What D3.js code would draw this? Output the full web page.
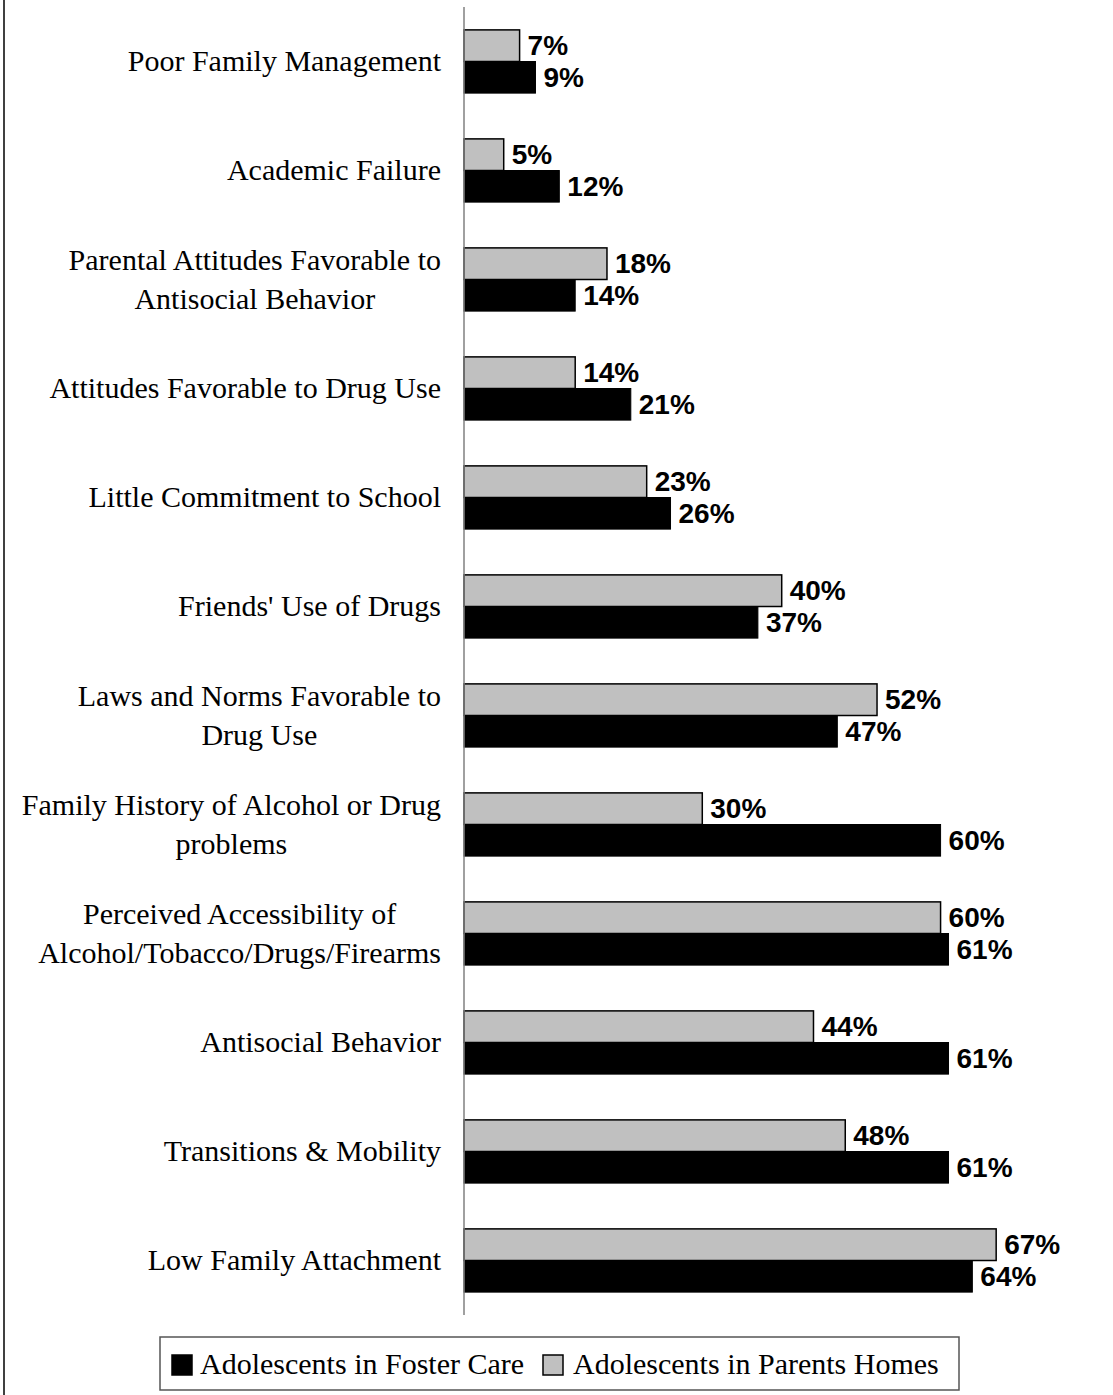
<!DOCTYPE html>
<html>
<head>
<meta charset="utf-8">
<script src="https://cdn.jsdelivr.net/npm/d3@7"></script>
<style>
  html, body { margin: 0; padding: 0; background: #fff; }
  svg { display: block; }
</style>
</head>
<body>
<svg id="chart" width="1113" height="1395"></svg>
<script>
// Risk factors, top to bottom; "\n" marks a line break in the label
const categories = [
  "Poor Family Management",
  "Academic Failure",
  "Parental Attitudes Favorable to\nAntisocial Behavior",
  "Attitudes Favorable to Drug Use",
  "Little Commitment to School",
  "Friends' Use of Drugs",
  "Laws and Norms Favorable to\nDrug Use",
  "Family History of Alcohol or Drug\nproblems",
  "Perceived Accessibility of\nAlcohol/Tobacco/Drugs/Firearms",
  "Antisocial Behavior",
  "Transitions & Mobility",
  "Low Family Attachment"
];
// Percent of adolescents showing each risk factor
const parentsHomes = [7, 5, 18, 14, 23, 40, 52, 30, 60, 44, 48, 67];
const fosterCare   = [9, 12, 14, 21, 26, 37, 47, 60, 61, 61, 61, 64];
const seriesNames  = ["Adolescents in Foster Care", "Adolescents in Parents Homes"];

const svg = d3.select("#chart");

const x = d3.scaleLinear().domain([0, 70]).range([464, 1020]);
const y = d3.scaleBand().domain(d3.range(categories.length))
  .range([7, 1315]).paddingInner(0.42).paddingOuter(0.21);
const sub = d3.scaleBand().domain(["parents", "foster"]).range([0, y.bandwidth()]);

const rows = categories.map((c, i) => ({
  i, label: c, parents: parentsHomes[i], foster: fosterCare[i]
}));

// outer frame line on the left
svg.append("line")
  .attr("x1", 4).attr("x2", 4).attr("y1", 0).attr("y2", 1395)
  .attr("stroke", "#404040").attr("stroke-width", 2);

const serif = "'Liberation Serif', 'Times New Roman', Times, serif";
const sans = "'Liberation Sans', Arial, Helvetica, sans-serif";

// bars
const g = svg.append("g");
const groups = g.selectAll("g.row").data(rows).join("g")
  .attr("class", "row")
  .attr("transform", d => `translate(0,${y(d.i)})`);

groups.append("rect")
  .attr("x", x(0))
  .attr("y", sub("parents"))
  .attr("width", d => x(d.parents) - x(0))
  .attr("height", sub.bandwidth())
  .attr("fill", "#c0c0c0")
  .attr("stroke", "#000").attr("stroke-width", 1.5);

groups.append("rect")
  .attr("x", x(0))
  .attr("y", sub("foster"))
  .attr("width", d => x(d.foster) - x(0))
  .attr("height", sub.bandwidth())
  .attr("fill", "#000")
  .attr("stroke", "#000").attr("stroke-width", 1);

// value labels
groups.append("text")
  .attr("x", d => x(d.parents) + 8)
  .attr("y", sub("parents") + sub.bandwidth() / 2)
  .attr("dy", "0.35em")
  .attr("font-family", sans).attr("font-weight", "bold").attr("font-size", 28)
  .text(d => d.parents + "%");

groups.append("text")
  .attr("x", d => x(d.foster) + 8)
  .attr("y", sub("foster") + sub.bandwidth() / 2)
  .attr("dy", "0.33em")
  .attr("font-family", sans).attr("font-weight", "bold").attr("font-size", 28)
  .text(d => d.foster + "%");

// category labels: lines centred on each other, block right-aligned to the axis
const labelRight = 441;
const lineH = 40;
groups.each(function(d) {
  const lines = d.label.split("\n");
  const cy = y.bandwidth() / 2;
  const t = d3.select(this).append("text")
    .attr("font-family", serif).attr("font-size", 30).attr("fill", "#000")
    .attr("text-anchor", "middle");
  const spans = lines.map((ln, k) => t.append("tspan")
    .attr("y", cy + (k - (lines.length - 1) / 2) * lineH + 10)
    .text(ln));
  const maxW = d3.max(spans, s => s.node().getComputedTextLength());
  spans.forEach(s => s.attr("x", labelRight - maxW / 2));
});

// vertical axis line
svg.append("line")
  .attr("x1", x(0)).attr("x2", x(0)).attr("y1", 7).attr("y2", 1315)
  .attr("stroke", "#808080").attr("stroke-width", 1.5);

// legend
const lg = svg.append("g");
lg.append("rect")
  .attr("x", 160).attr("y", 1337).attr("width", 799).attr("height", 53)
  .attr("fill", "#fff").attr("stroke", "#555").attr("stroke-width", 1.5);

const legendItems = [
  { name: seriesNames[0], fill: "#000", sx: 172, tx: 200 },
  { name: seriesNames[1], fill: "#c0c0c0", sx: 543, tx: 573 }
];
legendItems.forEach(it => {
  lg.append("rect")
    .attr("x", it.sx).attr("y", 1355).attr("width", 20).attr("height", 20)
    .attr("fill", it.fill).attr("stroke", "#000").attr("stroke-width", 1.5);
  lg.append("text")
    .attr("x", it.tx).attr("y", 1374)
    .attr("font-family", serif).attr("font-size", 30)
    .text(it.name);
});
</script>
</body>
</html>
